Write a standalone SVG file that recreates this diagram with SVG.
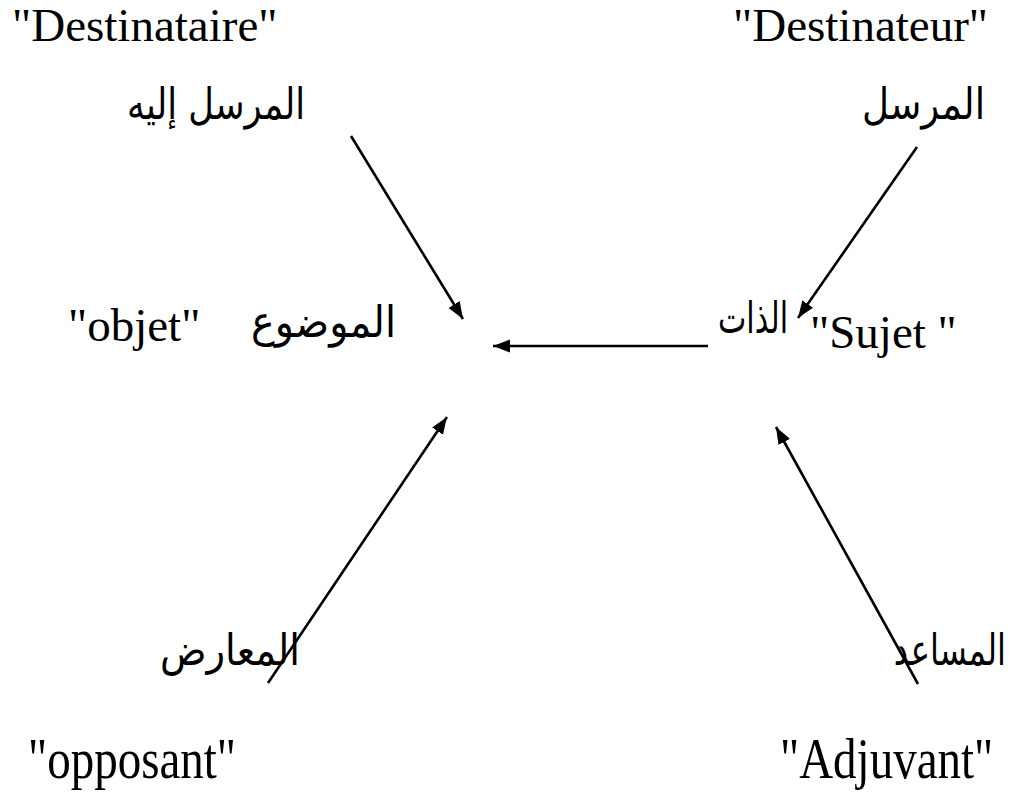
<svg xmlns="http://www.w3.org/2000/svg" width="1018" height="793" viewBox="0 0 1018 793">
  <style>
    .lat { font-family: "Liberation Serif", "Times New Roman", serif; font-size: 47px; fill: #000; }
    .ar { font-family: "DejaVu Sans", "Noto Sans", sans-serif; font-size: 43px; fill: #000; }
    .edge { stroke: #000; stroke-width: 2.6; fill: none; marker-end: url(#head); }
  </style>
  <defs>
    <marker id="head" markerUnits="userSpaceOnUse" markerWidth="18" markerHeight="14" refX="17" refY="7" orient="auto">
      <path d="M0,0.5 L17,7 L0,13.5 Z" fill="#000"/>
    </marker>
  </defs>
  <rect width="1018" height="793" fill="#fff"/>

  <!-- Destinataire (receiver) -->
  <g id="destinataire">
    <text class="lat" x="12" y="41">"Destinataire"</text>
    <text class="ar" x="127" y="119" textLength="178" lengthAdjust="spacingAndGlyphs">المرسل إليه</text>
  </g>

  <!-- Destinateur (sender) -->
  <g id="destinateur">
    <text class="lat" x="733" y="41">"Destinateur"</text>
    <text class="ar" x="862" y="119" textLength="123" lengthAdjust="spacingAndGlyphs">المرسل</text>
  </g>

  <!-- Objet -->
  <g id="objet">
    <text class="lat" x="68" y="341">"objet"</text>
    <text class="ar" x="251" y="337" textLength="145" lengthAdjust="spacingAndGlyphs">الموضوع</text>
  </g>

  <!-- Sujet -->
  <g id="sujet">
    <text class="ar" x="718" y="333" textLength="70" lengthAdjust="spacingAndGlyphs">الذات</text>
    <text class="lat" x="810" y="348">"Sujet "</text>
  </g>

  <!-- Opposant -->
  <g id="opposant">
    <text class="ar" x="160" y="665" textLength="140" lengthAdjust="spacingAndGlyphs">المعارض</text>
    <text class="lat" transform="translate(28,778) scale(1,1.2)">"opposant"</text>
  </g>

  <!-- Adjuvant -->
  <g id="adjuvant">
    <text class="ar" transform="translate(1006,665) scale(0.75,1)" text-anchor="end">المساعد</text>
    <text class="lat" transform="translate(780,778) scale(1,1.2)">"Adjuvant"</text>
  </g>

  <!-- Actant relations -->
  <g id="connectors">
    <line class="edge" x1="351" y1="136" x2="463" y2="319"/>
    <line class="edge" x1="917" y1="147" x2="798" y2="318"/>
    <line class="edge" x1="708" y1="346" x2="493" y2="346"/>
    <line class="edge" x1="268" y1="683" x2="447" y2="417"/>
    <line class="edge" x1="918" y1="684" x2="776" y2="427"/>
  </g>
</svg>
